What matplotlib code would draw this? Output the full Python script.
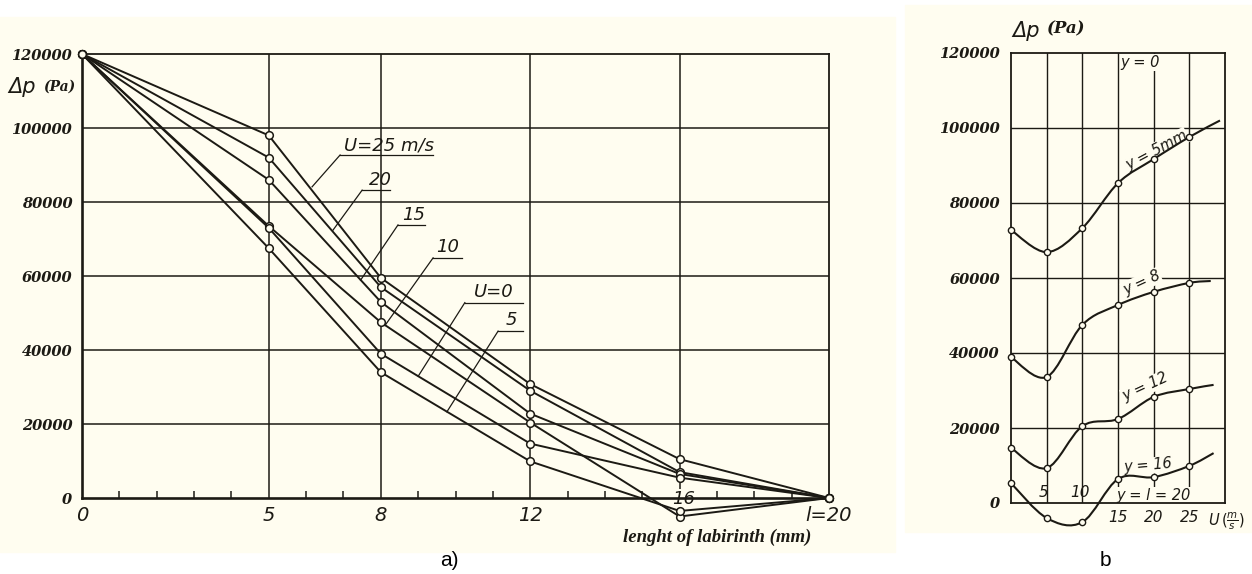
import matplotlib
matplotlib.use('Agg')
import matplotlib.pyplot as plt
from matplotlib.path import Path
from matplotlib.patches import PathPatch, Rectangle

# ---------------- data: panel a (pressure along labyrinth) ----------------
length_mm = [0, 5, 8, 12, 16, 20]
dp_U25 = [120000, 98000, 59500, 30800, 10500, 0]
dp_U20 = [120000, 92000, 57000, 29000, 7000, 0]
dp_U15 = [120000, 86000, 53000, 22800, 6500, 0]
dp_U10 = [120000, 73500, 47500, 20400, -5000, 0]
dp_U5 = [120000, 67500, 34000, 9900, -3500, 0]
dp_U0 = [120000, 73000, 39000, 14700, 5500, 0]

a_xtick_vals = [0, 5, 8, 12, 20]
a_xtick_labels = ['0', '5', '8', '12', 'l=20']
a_minor_ticks = [1, 2, 3, 4, 6, 7, 9, 10, 11, 13, 14, 15, 17, 18, 19]
ytick_vals = [0, 20000, 40000, 60000, 80000, 100000, 120000]
ytick_labels = ['0', '20000', '40000', '60000', '80000', '100000', '120000']

# ---------------- data: panel b (pressure vs velocity) ----------------
velocity = [0, 5, 10, 15, 20, 25]
dp_y5 = [72800, 66900, 73300, 85300, 91700, 97600]
dp_y8 = [38900, 33600, 47500, 52800, 56300, 58700]
dp_y12 = [14700, 9300, 20500, 22400, 28300, 30400]
dp_y16 = [5300, -4000, -5100, 6400, 6900, 9900]
curve_end_U = [29.3, 28.0, 28.4, 28.4]
curve_end_dp = [102000, 59200, 31500, 13300]

W, H = 1252, 574
fig = plt.figure(figsize=(W / 100, H / 100), dpi=100)
fig.patch.set_facecolor('white')

CREAM = '#fffdf0'
INK = '#1c1a14'


def fx(px):
    return px / W


def fy(py):
    return 1 - py / H


# cream scanned background
fig.patches.append(Rectangle((fx(0), fy(552)), fx(895), (552 - 17) / H,
                             transform=fig.transFigure, color=CREAM, zorder=-10))
fig.patches.append(Rectangle((fx(905), fy(532)), fx(347), (532 - 5) / H,
                             transform=fig.transFigure, color=CREAM, zorder=-10))

tick_font = dict(family=['DejaVu Serif'], weight='bold', style='italic', size=10.5)
hand_font = dict(family=['DejaVu Sans'], style='italic')

# ======================= panel a =======================
axa = fig.add_axes([fx(82), fy(498), (829 - 82) / W, (498 - 54) / H])
axa.set_facecolor('none')
axa.set_xlim(0, 20)
axa.set_ylim(0, 120000)
for s in axa.spines.values():
    s.set_color(INK)
axa.spines['left'].set_linewidth(1.9)
axa.spines['bottom'].set_linewidth(1.9)
axa.spines['top'].set_linewidth(1.3)
axa.spines['right'].set_linewidth(1.3)

for xv in [5, 8, 12, 16]:
    axa.axvline(xv, color=INK, lw=1.1, zorder=1)
for yv in ytick_vals[1:-1]:
    axa.axhline(yv, color=INK, lw=1.1, zorder=1)

axa.set_xticks(a_xtick_vals)
axa.set_xticklabels(a_xtick_labels, fontsize=14, **hand_font)
axa.set_xticks(a_minor_ticks, minor=True)
axa.tick_params(axis='x', which='major', length=0, pad=6, colors=INK)
axa.tick_params(axis='x', which='minor', length=5, width=1.1, direction='in', colors=INK)
axa.set_yticks(ytick_vals)
axa.set_yticklabels(ytick_labels, **tick_font)
axa.tick_params(axis='y', length=0, pad=7, colors=INK)

for series in [dp_U25, dp_U20, dp_U15, dp_U10, dp_U5, dp_U0]:
    axa.plot(length_mm, series, color=INK, lw=1.4, marker='o', ms=5.5,
             mfc=CREAM, mec=INK, mew=1.1, clip_on=False, zorder=3)

# labels with underline and leader lines
a_labels = [
    ('U=25 m/s', 8.23, 95400, (6.91, 9.40), 92700, (6.16, 84100)),
    ('20', 7.98, 86000, (7.50, 8.25), 83200, (6.72, 72400)),
    ('15', 8.89, 76500, (8.46, 9.18), 73800, (7.46, 58900)),
    ('10', 9.80, 67800, (9.40, 10.17), 64900, (8.11, 46600)),
    ('U=0', 11.03, 55700, (10.25, 11.80), 52800, (9.00, 32900)),
    ('5', 11.49, 48100, (11.14, 11.80), 45100, (9.77, 23300)),
]
for txt, tx, ty, (u0, u1), uy, (lx, ly) in a_labels:
    axa.text(tx, ty, txt, ha='center', va='center', fontsize=13, color=INK, **hand_font)
    axa.plot([u0, u1], [uy, uy], color=INK, lw=0.9, zorder=2)
    axa.plot([u0, lx], [uy, ly], color=INK, lw=0.9, zorder=2)

axa.text(16.1, -300, '16', ha='center', va='center', fontsize=13, color=INK,
         bbox=dict(boxstyle='square,pad=0.05', fc=CREAM, ec='none'), zorder=2, **hand_font)

fig.text(fx(717), fy(537), 'lenght of labirinth (mm)', ha='center', va='center',
         family=['Liberation Serif'], weight='bold', style='italic', size=13.5, color=INK)
fig.text(fx(8), fy(93), 'Δp', ha='left', va='baseline', fontsize=15, color=INK, **hand_font)
fig.text(fx(43), fy(91), '(Pa)', ha='left', va='baseline', family=['DejaVu Serif'],
         weight='bold', style='italic', size=10, color=INK)
fig.text(fx(449), fy(561), 'a)', ha='center', va='center', family=['Liberation Sans'],
         size=15, color='black')

# ======================= panel b =======================
axb = fig.add_axes([fx(1011), fy(503), (1225 - 1011) / W, (503 - 53) / H])
axb.set_facecolor('none')
axb.set_xlim(0, 30)
axb.set_ylim(0, 120000)
for s in axb.spines.values():
    s.set_color(INK)
    s.set_linewidth(1.3)
for xv in [5, 10, 15, 20, 25]:
    axb.axvline(xv, color=INK, lw=1.0, zorder=1)
for yv in ytick_vals[1:-1]:
    axb.axhline(yv, color=INK, lw=1.0, zorder=1)

axb.set_yticks(ytick_vals)
axb.set_yticklabels(ytick_labels, **tick_font)
axb.tick_params(axis='y', length=0, pad=8, colors=INK)
axb.set_xticks([15, 20, 25])
axb.set_xticklabels(['15', '20', '25'], fontsize=11, **hand_font)
axb.tick_params(axis='x', length=0, pad=5, colors=INK)
axb.text(4.5, 2700, '5', ha='center', va='center', fontsize=11, color=INK, **hand_font)
axb.text(9.7, 2700, '10', ha='center', va='center', fontsize=11, color=INK, **hand_font)
fig.text(fx(1208), fy(521), r'$U\,(\frac{m}{s})$', ha='left', va='center',
         fontsize=10.5, color=INK)


def smooth_path(xs, ys):
    pts = list(zip(xs, ys))
    ext = [pts[0]] + pts + [pts[-1]]
    verts = [pts[0]]
    codes = [Path.MOVETO]
    for i in range(1, len(ext) - 2):
        p0, p1, p2, p3 = ext[i - 1], ext[i], ext[i + 1], ext[i + 2]
        c1 = (p1[0] + (p2[0] - p0[0]) / 6, p1[1] + (p2[1] - p0[1]) / 6)
        c2 = (p2[0] - (p3[0] - p1[0]) / 6, p2[1] - (p3[1] - p1[1]) / 6)
        verts += [c1, c2, p2]
        codes += [Path.CURVE4] * 3
    return Path(verts, codes)


for series, ex, ey in zip([dp_y5, dp_y8, dp_y12, dp_y16], curve_end_U, curve_end_dp):
    path = smooth_path(velocity + [ex], series + [ey])
    axb.add_patch(PathPatch(path, fill=False, ec=INK, lw=1.5, clip_on=False, zorder=3))
    axb.plot(velocity, series, ls='none', marker='o', ms=4.5, mfc=CREAM, mec=INK,
             mew=1.0, clip_on=False, zorder=4)

b_labels = [
    ('y = 0', 18.1, 117500, 0),
    ('y = 5mm', 20.4, 94100, 28),
    ('y = 8', 18.3, 58700, 25),
    ('y = 12', 18.8, 30900, 25),
    ('y = 16', 19.2, 9900, 5),
    ('y = l = 20', 20.0, 2100, 0),
]
for txt, tx, ty, rot in b_labels:
    axb.text(tx, ty, txt, ha='center', va='center', rotation=rot, fontsize=10.5,
             color=INK, bbox=dict(boxstyle='square,pad=0.05', fc=CREAM, ec='none'),
             zorder=2, **hand_font)

fig.text(fx(1012), fy(37), 'Δp', ha='left', va='baseline', fontsize=15, color=INK, **hand_font)
fig.text(fx(1047), fy(33), '(Pa)', ha='left', va='baseline', family=['DejaVu Serif'],
         weight='bold', style='italic', size=12, color=INK)
fig.text(fx(1105), fy(561), 'b', ha='center', va='center', family=['Liberation Sans'],
         size=15, color='black')

fig.savefig('out.png', dpi=100, facecolor='white')
